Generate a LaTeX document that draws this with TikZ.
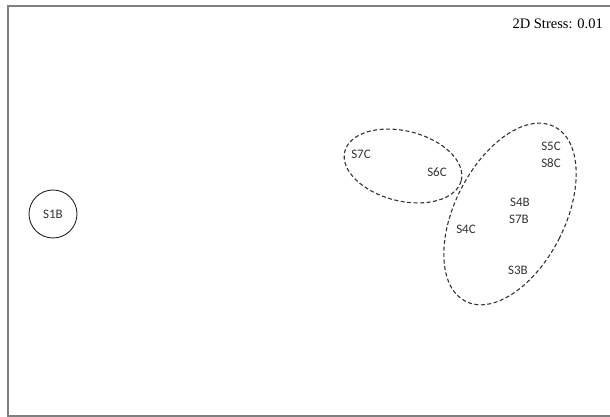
\documentclass[tikz,border=0pt]{standalone}
\usepackage{fontspec}
\setmainfont{Liberation Serif}
\newfontfamily\lblfont{Carlito}
\begin{document}
\begin{tikzpicture}[x=1pt,y=1pt,
  lbl/.style={font=\lblfont\fontsize{13}{15}\selectfont, text=black!80, inner sep=0pt},
  frameline/.style={draw=black!50, line width=1.5pt},
  grp/.style={draw=black!80, line width=1.1pt, dash pattern=on 4pt off 2.5pt}]
\useasboundingbox (0,0) rectangle (610,417);
% frame
\coordinate (tl) at (8,411);
\coordinate (bl) at (8,1);
\coordinate (tr) at (610,411);
\coordinate (br) at (610,1);
\draw[frameline] (tr) -- (tl) -- (bl) -- (br);
% stress label
\node[anchor=base east, inner sep=0pt, font=\fontsize{14.5}{16}\selectfont] (stress) at (603,388) {2D Stress: 0.01};
% sample labels
\node[lbl, draw=black!85, line width=0.9pt, circle, minimum size=48pt] (s1b) at (53,203) {S1B};
\node[lbl] (s7c) at (361,263) {S7C};
\node[lbl] (s6c) at (437,245) {S6C};
\node[lbl] (s5c) at (551,271) {S5C};
\node[lbl] (s8c) at (551,254) {S8C};
\node[lbl] (s4b) at (520,215) {S4B};
\node[lbl] (s7b) at (519,198) {S7B};
\node[lbl] (s4c) at (466,188) {S4C};
\node[lbl] (s3b) at (518,147) {S3B};
% groups
\coordinate (g1) at (403,251);
\coordinate (g2) at (510,203);
\draw[grp] (g1) ellipse [x radius=60, y radius=35, rotate=-14];
\draw[grp] (g2) ellipse [x radius=55, y radius=98, rotate=-27];
\end{tikzpicture}
\end{document}
